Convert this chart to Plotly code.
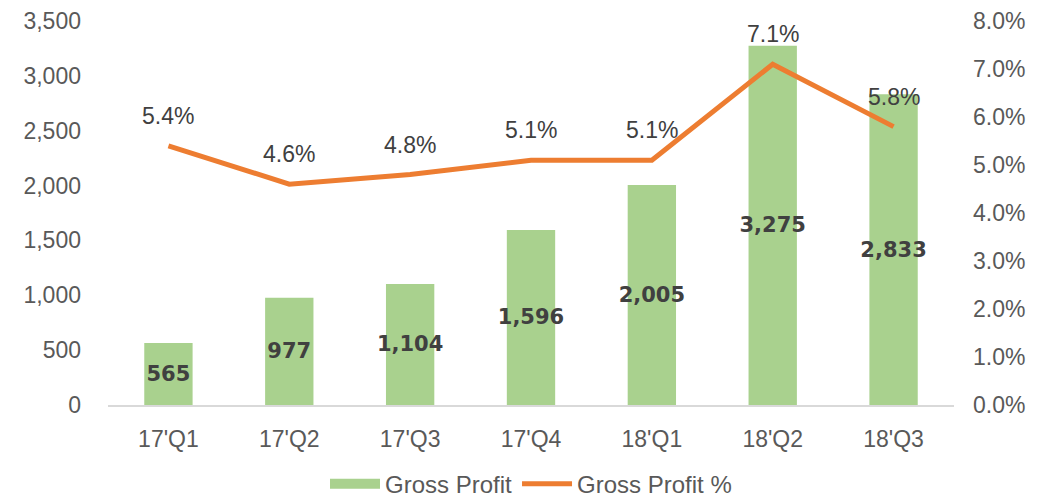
import plotly.graph_objects as go

quarters = ["17'Q1", "17'Q2", "17'Q3", "17'Q4", "18'Q1", "18'Q2", "18'Q3"]
gross_profit = [565, 977, 1104, 1596, 2005, 3275, 2833]
gross_profit_pct = [0.054, 0.046, 0.048, 0.051, 0.051, 0.071, 0.058]

BAR = "#A9D18E"
LINE = "#ED7D31"
TXT = "#595959"
LBL = "#404040"
FONT = "Liberation Sans, Arial, sans-serif"

fig = go.Figure()
fig.add_trace(go.Bar(
    x=quarters, y=gross_profit, name="Gross Profit",
    marker=dict(color=BAR, line=dict(width=0)),
    width=0.4, showlegend=False,
    text=[f"{v:,}" for v in gross_profit],
    textposition="inside", insidetextanchor="middle",
    textangle=0, constraintext="none",
    textfont=dict(family="DejaVu Sans", size=21, color=LBL, weight="bold"),
    cliponaxis=False,
))
# legend-only entry drawn as a wide flat swatch like the reference
fig.add_trace(go.Scatter(
    x=[None], y=[None], name="Gross Profit", mode="lines",
    line=dict(color=BAR, width=12), showlegend=True,
))
fig.add_trace(go.Scatter(
    x=quarters, y=gross_profit_pct, name="Gross Profit %",
    mode="lines", line=dict(color=LINE, width=5),
    yaxis="y2",
))

for q, p in zip(quarters, gross_profit_pct):
    fig.add_annotation(
        x=q, y=p, xref="x", yref="y2", text=f"{p*100:.1f}%",
        showarrow=False, yshift=30,
        font=dict(family=FONT, size=23, color=LBL),
    )

fig.update_layout(
    width=1048, height=491,
    margin=dict(l=100, r=102, t=13, b=94, autoexpand=False),
    paper_bgcolor="white", plot_bgcolor="white",
    font=dict(family=FONT, size=23, color=TXT),
    showlegend=True,
    legend=dict(orientation="h", x=0.5, xanchor="center", xref="paper",
                y=0.03, yanchor="middle", yref="container",
                font=dict(family=FONT, size=24, color=TXT), traceorder="normal",
                itemwidth=50),
    xaxis=dict(showgrid=False, showline=True, linecolor="#D9D9D9", linewidth=2,
               ticks="", automargin=False, ticklabelstandoff=12,
               tickfont=dict(family=FONT, size=23, color=TXT)),
    yaxis=dict(range=[0, 3500], dtick=500, tickformat=",", showgrid=False,
               zeroline=False, showline=False, ticks="", automargin=False,
               ticklabelstandoff=26, ticklabeloverflow="allow",
               tickfont=dict(family=FONT, size=23, color=TXT)),
    yaxis2=dict(range=[0, 0.08], dtick=0.01, tickformat=".1%", overlaying="y",
                side="right", showgrid=False, zeroline=False, showline=False,
                ticks="", automargin=False, ticklabelstandoff=18,
                ticklabeloverflow="allow",
                tickfont=dict(family=FONT, size=23, color=TXT)),
)

fig.write_html("out.html")
